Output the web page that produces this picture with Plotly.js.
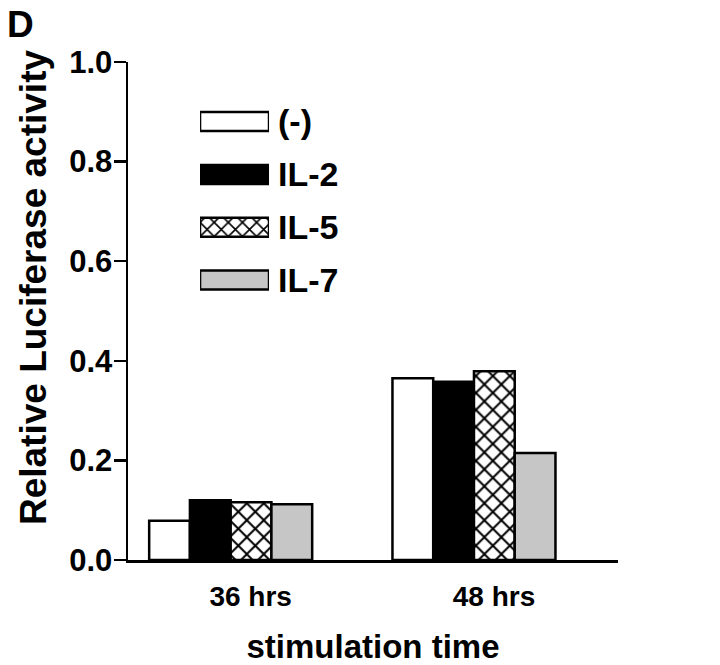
<!DOCTYPE html>
<html>
<head>
<meta charset="utf-8">
<script src="https://cdn.plot.ly/plotly-3.0.1.min.js"></script>
<style>body{margin:0;background:#fff}#chart{width:720px;height:665px}</style>
</head>
<body>
<div id="chart"></div>
<script>
// Data
const categories = ['36 hrs', '48 hrs'];
const seriesNames = ['(-)', 'IL-2', 'IL-5', 'IL-7'];
const valsNone = [0.079, 0.365];
const valsIL2 = [0.120, 0.358];
const valsIL5 = [0.116, 0.379];
const valsIL7 = [0.112, 0.215];
const yTitle = 'Relative Luciferase activity';
const xTitle = 'stimulation time';
const panelLabel = 'D';

const seriesValues = [valsNone, valsIL2, valsIL5, valsIL7];
const fills = ['#ffffff', '#000000', '#ffffff', '#c6c6c6'];
const patterns = ['', '', 'x', ''];

const FONT = '"Liberation Sans", Arial, sans-serif';

const traces = seriesValues.map((vals, i) => ({
  type: 'bar',
  name: seriesNames[i],
  x: categories,
  y: vals,
  xaxis: 'x', yaxis: 'y',
  showlegend: false,
  hoverinfo: 'skip',
  marker: {
    color: fills[i],
    line: {color: '#000', width: 2.5},
    pattern: {shape: patterns[i], fgcolor: '#000', bgcolor: '#fff', size: 12, solidity: 0.3}
  }
}));

// Legend drawn as small horizontal bars on their own axes
seriesNames.forEach((nm, i) => {
  traces.push({
    type: 'bar',
    orientation: 'h',
    x: [1],
    y: [nm],
    xaxis: 'x2', yaxis: 'y2',
    width: 0.36,
    showlegend: false,
    hoverinfo: 'skip',
    marker: {
      color: fills[i],
      line: {color: '#000', width: 2.5},
      pattern: {shape: patterns[i], fgcolor: '#000', bgcolor: '#fff', size: 10, solidity: 0.3}
    }
  });
});

const layout = {
  width: 720, height: 665,
  margin: {l: 128, r: 102, t: 61.7, b: 104.7},
  paper_bgcolor: '#fff', plot_bgcolor: '#fff',
  font: {family: FONT, color: '#000'},
  barmode: 'group',
  bargap: 0.33,
  bargroupgap: 0,
  showlegend: false,
  xaxis: {
    type: 'category',
    categoryorder: 'array', categoryarray: categories,
    range: [-0.422, 1.592],
    showline: true, linecolor: '#000', linewidth: 2.5,
    ticks: '', showgrid: false, zeroline: false,
    tickfont: {family: FONT, size: 28, color: '#000', weight: 'bold'},
    ticklabelshift: 20,
    ticklabelstandoff: 10,
    title: {text: '<b>' + xTitle + '</b>', font: {family: FONT, size: 33, color: '#000'}, standoff: 24}
  },
  yaxis: {
    range: [0, 1.0],
    tickvals: [0, 0.2, 0.4, 0.6, 0.8, 1.0],
    tickformat: '.1f',
    showline: true, linecolor: '#000', linewidth: 2.5,
    ticks: 'outside', ticklen: 12, tickwidth: 2.5, tickcolor: '#000',
    showgrid: false, zeroline: false,
    tickfont: {family: FONT, size: 31, color: '#000', weight: 'bold'},
    ticklabelstandoff: -5
  },
  xaxis2: {
    domain: [0.147, 0.2878], anchor: 'y2', range: [0, 1],
    visible: false, fixedrange: true
  },
  yaxis2: {
    domain: [0.509, 0.9335], anchor: 'x2', type: 'category',
    categoryorder: 'array', categoryarray: seriesNames,
    range: [3.5, -0.5],
    side: 'right', showline: false, ticks: '', showgrid: false, zeroline: false,
    ticklabelstandoff: 8,
    tickfont: {family: FONT, size: 34, color: '#000', weight: 'bold'}
  },
  annotations: [
    {
      text: '<b>' + panelLabel + '</b>', xref: 'paper', yref: 'paper',
      x: -0.251, y: 1.12, xanchor: 'left', yanchor: 'top',
      showarrow: false, font: {family: FONT, size: 37, color: '#000'}
    },
    {
      text: '<b>' + yTitle + '</b>', xref: 'paper', yref: 'paper',
      x: -0.194, y: 0.548, xanchor: 'center', yanchor: 'middle',
      textangle: -90,
      showarrow: false, font: {family: FONT, size: 37, color: '#000'}
    }
  ]
};

Plotly.newPlot('chart', traces, layout, {displayModeBar: false, staticPlot: true});
</script>
</body>
</html>
